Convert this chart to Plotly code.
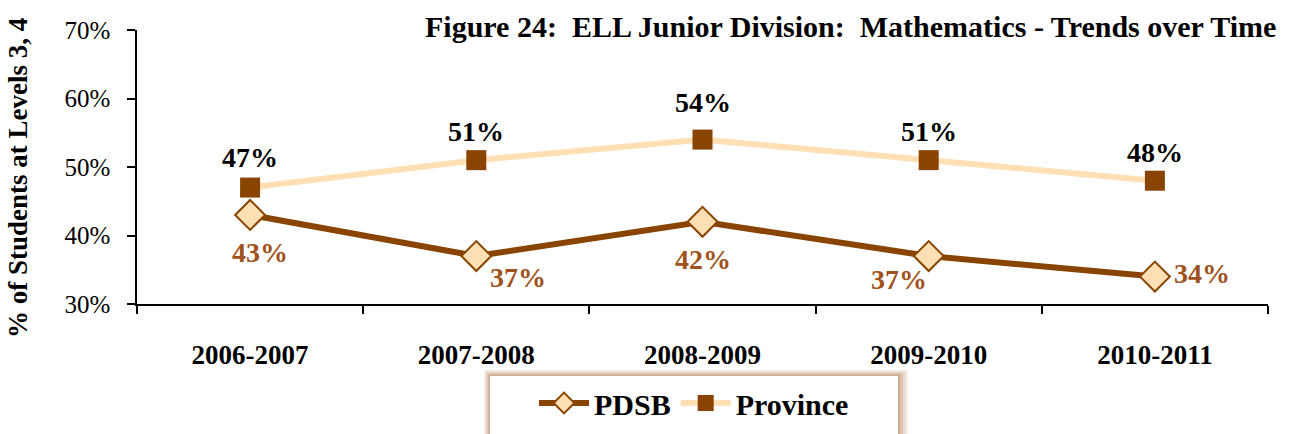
import plotly.graph_objects as go

years = ["2006-2007", "2007-2008", "2008-2009", "2009-2010", "2010-2011"]
pdsb = [43, 37, 42, 37, 34]
province = [47, 51, 54, 51, 48]
y_ticks = [30, 40, 50, 60, 70]
y_tick_labels = ["30%", "40%", "50%", "60%", "70%"]

# label offsets in pixels (style)
pdsb_dx = [10, 42, 0, -30, 47]
pdsb_dy = [-38, -21, -38, -23, 3]
prov_dx = [0, 0, 0, 0, 0]
prov_dy = [30, 29, 37, 29, 28]

FONT = "Liberation Serif"
BROWN = "#884400"
PEACH = "#FFDFB3"
LABEL_BROWN = "#A0521C"

fig = go.Figure()
fig.add_trace(go.Scatter(
    x=years, y=pdsb, name="PDSB", mode="lines+markers",
    line=dict(color=BROWN, width=6),
    marker=dict(symbol="diamond", size=23, color=PEACH, line=dict(color=BROWN, width=2)),
))
fig.add_trace(go.Scatter(
    x=years, y=province, name="Province", mode="lines+markers",
    line=dict(color=PEACH, width=6),
    marker=dict(symbol="square", size=20, color=BROWN, line=dict(color=BROWN, width=0)),
))

W, H = 1291, 434
L, R, T, B = 137, 23, 30, 130
pw, ph = W - L - R, H - T - B


def px(xp):
    return (xp - L) / pw


def py(yp):
    return (H - B - yp) / ph


ann = []
for i, yr in enumerate(years):
    ann.append(dict(x=yr, y=pdsb[i], text=f"{pdsb[i]}%", showarrow=False,
                    xshift=pdsb_dx[i], yshift=pdsb_dy[i],
                    font=dict(family=FONT, size=28, color=LABEL_BROWN, weight="bold")))
    ann.append(dict(x=yr, y=province[i], text=f"{province[i]}%", showarrow=False,
                    xshift=prov_dx[i], yshift=prov_dy[i],
                    font=dict(family=FONT, size=28, color="black", weight="bold")))
ann.append(dict(xref="paper", yref="paper", x=px(1278), y=py(26), xanchor="right", yanchor="middle",
                text="Figure 24:\u00a0 ELL Junior Division:\u00a0 Mathematics - Trends over Time",
                showarrow=False, font=dict(family=FONT, size=30, color="black", weight="bold")))
ann.append(dict(xref="paper", yref="paper", x=px(18), y=py(178), xanchor="center", yanchor="middle",
                textangle=-90, text="% of Students at Levels 3, 4", showarrow=False,
                font=dict(family=FONT, size=27, color="black", weight="bold")))

shapes = []
# legend shadow + box
for k, op in enumerate([0.10, 0.12, 0.15, 0.2]):
    g = 10 - k * 2.5
    shapes.append(dict(type="rect", xref="paper", yref="paper", layer="above",
                       x0=px(490 - g * 0.6), x1=px(898 + g), y0=py(434 + 10), y1=py(376 - g * 0.6),
                       fillcolor="#A0521C", opacity=op, line=dict(width=0)))
shapes.append(dict(type="rect", xref="paper", yref="paper", layer="above",
                   x0=px(490), x1=px(898), y0=py(440), y1=py(376),
                   fillcolor="white", line=dict(width=0)))

fig.update_layout(
    width=W, height=H,
    margin=dict(l=L, r=R, t=T, b=B, autoexpand=False),
    paper_bgcolor="white", plot_bgcolor="white",
    font=dict(family=FONT, color="black"),
    showlegend=True,
    legend=dict(orientation="h", x=px(694), xanchor="center", y=py(377), yanchor="top",
                bgcolor="rgba(0,0,0,0)", font=dict(family=FONT, size=30, color="black", weight="bold"),
                itemwidth=50, tracegroupgap=0),
    annotations=ann,
    shapes=shapes,
    xaxis=dict(type="category", range=[-0.5, len(years) - 0.5],
               showline=True, linecolor="black", linewidth=1.5,
               ticks="outside", tickson="boundaries", ticklen=8, tickcolor="black", tickwidth=1.5,
               showgrid=False, zeroline=False, ticklabelstandoff=26,
               tickfont=dict(family=FONT, size=27, color="black", weight="bold")),
    yaxis=dict(range=[30, 70], tickvals=y_ticks, ticktext=y_tick_labels,
               showline=True, linecolor="black", linewidth=1.5,
               ticks="outside", ticklen=8, tickcolor="black", tickwidth=1.5,
               showgrid=False, zeroline=False, ticklabelstandoff=12,
               tickfont=dict(family=FONT, size=25, color="black")),
)

fig.write_html("out.html", config={"displayModeBar": False},
               post_script="document.body.style.margin='0';document.body.style.padding='0';")
